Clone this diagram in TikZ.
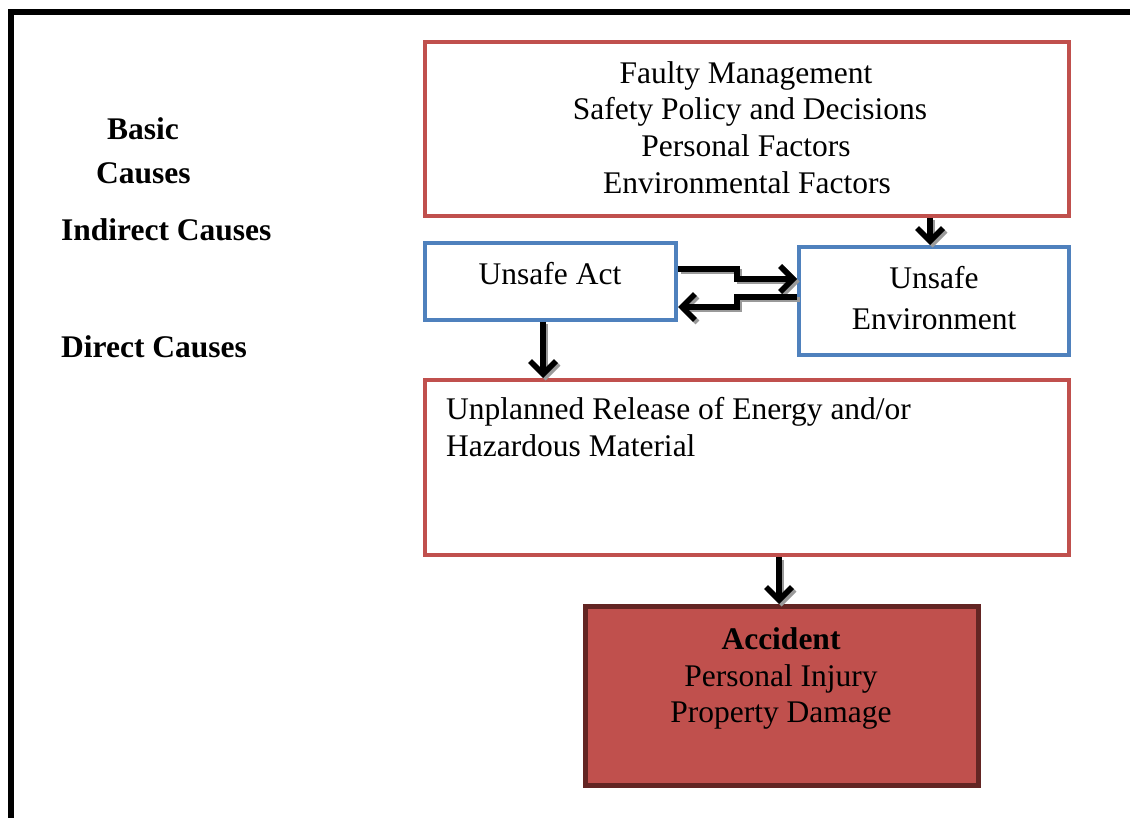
\documentclass[tikz,border=0pt]{standalone}
\usepackage{fontspec}
\setmainfont{Liberation Serif}
\usetikzlibrary{arrows.meta}
\definecolor{boxred}{HTML}{C0504D}
\definecolor{boxblue}{HTML}{4F81BD}
\definecolor{darkred}{HTML}{632523}
\definecolor{shadowgray}{HTML}{9A9A9A}
\tikzset{
  redbox/.style={draw=boxred, line width=4pt, inner sep=0pt},
  bluebox/.style={draw=boxblue, line width=4pt, inner sep=0pt},
  accbox/.style={draw=darkred, fill=boxred, line width=5pt, inner sep=0pt},
  txt/.style={anchor=base, inner sep=0pt, font=\fontsize{31.5}{36.7}\selectfont},
  ltxt/.style={anchor=base west, inner sep=0pt, font=\fontsize{31.5}{36.7}\selectfont},
  lbl/.style={anchor=base west, inner sep=0pt, font=\fontsize{31.5}{36.7}\selectfont\bfseries},
  arr/.style={line width=5.5pt, -{Straight Barb[length=13pt,width=26pt]}},
  shd/.style={arr, draw=shadowgray, transform canvas={shift={(2.5pt,-2.5pt)}}},
}
\newcommand\shadowarrow[1]{\draw[shd] #1; \draw[arr] #1;}
\begin{document}
\begin{tikzpicture}[x=1pt,y=-1pt]
\useasboundingbox (0,0) rectangle (1130,818);
% frame
\draw[line width=6pt] (11,818) -- (11,12.5) -- (1130,12.5);
% boxes
\node[redbox, minimum width=644pt, minimum height=174pt] (basic) at (747,129) {};
\node[bluebox, minimum width=251pt, minimum height=77pt] (act) at (550.5,281.5) {};
\node[bluebox, minimum width=270pt, minimum height=108pt] (env) at (934,301) {};
\node[redbox, minimum width=644pt, minimum height=175pt] (release) at (747,467.5) {};
\node[accbox, minimum width=393pt, minimum height=179pt] (acc) at (782,696) {};
% box texts
\node[txt] (t1) at (746,83.5) {Faulty Management};
\node[txt] (t2) at (750,120) {Safety Policy and Decisions};
\node[txt] (t3) at (746,157) {Personal Factors};
\node[txt] (t4) at (747,193.5) {Environmental Factors};
\node[txt] (ta) at (550,284.5) {Unsafe Act};
\node[txt] (te1) at (934,289) {Unsafe};
\node[txt] (te2) at (934,330) {Environment};
\node[ltxt] (tr1) at (446,419.5) {Unplanned Release of Energy and/or};
\node[ltxt] (tr2) at (446,456) {Hazardous Material};
\node[txt, font=\fontsize{31.5}{36.7}\selectfont\bfseries] (tc1) at (781,649.5) {Accident};
\node[txt] (tc2) at (781,686) {Personal Injury};
\node[txt] (tc3) at (781,722.5) {Property Damage};
% left labels
\node[lbl] (l1) at (107,140) {Basic};
\node[lbl] (l2) at (96,184) {Causes};
\node[lbl] (l3) at (61,241) {Indirect Causes};
\node[lbl] (l4) at (61,358) {Direct Causes};
% arrows
\coordinate (x930) at (930,0);
\coordinate (x543) at (543,0);
\coordinate (x779) at (779,0);
\coordinate (y1) at (0,269);
\coordinate (y2) at (0,279);
\coordinate (y3) at (0,297);
\coordinate (y4) at (0,307);
\coordinate (mx) at (737,0);
\shadowarrow{(basic.south -| x930) -- (env.north -| x930)}
\shadowarrow{(act.south -| x543) -- (release.north -| x543)}
\shadowarrow{(release.south -| x779) -- (acc.north -| x779)}
\shadowarrow{(act.east |- y1) -- (mx |- y1) -- (mx |- y2) -- (env.west |- y2)}
\shadowarrow{(env.west |- y3) -- (mx |- y3) -- (mx |- y4) -- (act.east |- y4)}
\end{tikzpicture}
\end{document}
